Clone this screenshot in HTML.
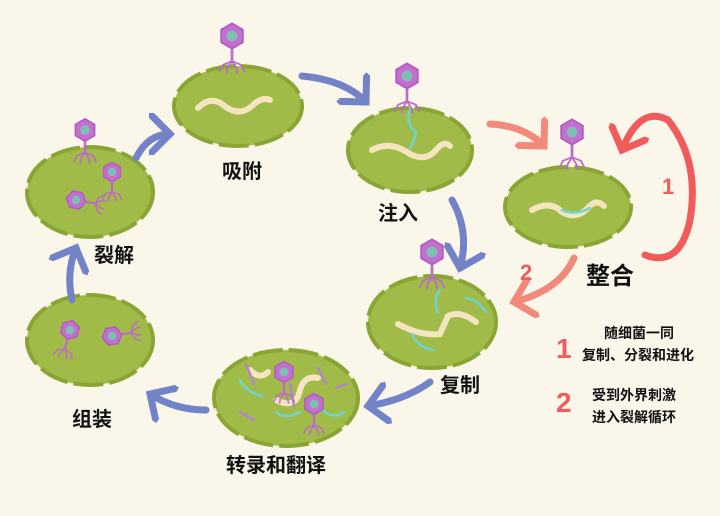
<!DOCTYPE html>
<html><head><meta charset="utf-8"><style>
body{margin:0;background:#fbf6ea;}
svg{display:block}
text{font-family:"Liberation Sans","Noto Sans CJK SC",sans-serif;font-weight:bold;fill:#111}
</style></head><body>
<svg width="720" height="516" viewBox="0 0 720 516">
<rect width="720" height="516" fill="#fbf6ea"/>
<defs>
<marker id="ab" markerWidth="6" markerHeight="6" refX="3" refY="3" orient="auto" markerUnits="strokeWidth"><path d="M0.3,0.3 L3,3 L0.3,5.7" fill="none" stroke="#7383c8" stroke-width="1" stroke-linecap="round"/></marker>
<marker id="ar" markerWidth="6" markerHeight="6" refX="3" refY="3" orient="auto" markerUnits="strokeWidth"><path d="M0.3,0.3 L3,3 L0.3,5.7" fill="none" stroke="#f28a7c" stroke-width="1" stroke-linecap="round"/></marker>
<marker id="ar2" markerWidth="6" markerHeight="6" refX="3" refY="3" orient="auto" markerUnits="strokeWidth"><path d="M0.3,0.3 L3,3 L0.3,5.7" fill="none" stroke="#f25b5b" stroke-width="1" stroke-linecap="round"/></marker>
<g id="ph">
<polygon points="0,-14 12,-7 12,7 0,14 -12,7 -12,-7" fill="#c46fcf" stroke="#b25bbf" stroke-width="2"/>
<circle r="6" fill="#7cbfb4"/>
<line x1="0" y1="14" x2="0" y2="30" stroke="#c06ac8" stroke-width="3"/>
<path d="M0,28 L-10,32 L-14,40 M0,28 L10,32 L14,40 M0,28 L-5,36 L-6,42 M0,28 L5,36 L6,42" stroke="#c06ac8" stroke-width="2" fill="none"/>
</g>
</defs>
<g fill="#a0bb48" stroke="#89a533" stroke-width="4" stroke-dasharray="30 6">
<ellipse cx="238" cy="106" rx="64" ry="40"/>
<ellipse cx="410" cy="150" rx="62" ry="42"/>
<ellipse cx="568" cy="207" rx="63" ry="40"/>
<ellipse cx="432" cy="322" rx="64" ry="46"/>
<ellipse cx="286" cy="398" rx="72" ry="48"/>
<ellipse cx="90" cy="340" rx="63" ry="45"/>
<ellipse cx="90" cy="192" rx="63" ry="45"/>
</g>
<g fill="none" stroke="#f5e4c0" stroke-width="6" stroke-linecap="round">
<path d="M198,108 Q210,96 222,104 Q238,118 252,106 Q262,96 270,100"/>
<path d="M372,150 Q390,140 410,154 Q426,162 436,150 Q444,140 450,146"/>
<path d="M532,210 Q550,200 562,212 Q576,220 588,208 Q596,198 604,206"/>
<path d="M398,324 Q420,336 440,334 L448,316 Q460,310 476,322"/>
<path d="M250,370 Q260,380 268,372 M276,400 Q296,410 300,390 Q304,375 318,378"/>
</g>
<g fill="none" stroke="#6fd3cf" stroke-width="2.5" stroke-linecap="round">
<path d="M410,110 Q405,125 416,132 Q414,142 410,148"/>
<path d="M562,210 Q575,216 590,208"/>
<path d="M440,290 Q432,300 438,312 M466,298 Q478,300 486,312 M412,334 Q418,348 434,350"/>
<path d="M240,380 Q246,392 262,396 M276,412 Q286,420 300,412 M322,410 Q334,420 344,412"/>
</g>
<g fill="none" stroke="#b684c8" stroke-width="2.5" stroke-linecap="round">
<path d="M246,364 L254,384 M318,368 L326,384 M290,384 L294,406 M240,412 L254,420 M336,388 L346,384"/>
</g>
<use href="#ph" transform="translate(232,36) scale(0.9)"/>
<use href="#ph" transform="translate(407,76) scale(0.9)"/>
<use href="#ph" transform="translate(572,132) scale(0.9)"/>
<use href="#ph" transform="translate(432,252) scale(0.9)"/>
<use href="#ph" transform="translate(85,130) scale(0.8)"/>
<use href="#ph" transform="translate(112,172) scale(0.7)"/>
<use href="#ph" transform="translate(76,200) scale(0.7) rotate(-80)"/>
<use href="#ph" transform="translate(70,330) scale(0.7) rotate(15)"/>
<use href="#ph" transform="translate(112,336) scale(0.7) rotate(-100)"/>
<use href="#ph" transform="translate(284,372) scale(0.75)"/>
<use href="#ph" transform="translate(314,404) scale(0.75)"/>
<g fill="none" stroke="#7383c8" stroke-width="7" stroke-linecap="round">
<path d="M302,76 Q345,80 366,102" marker-end="url(#ab)"/>
<path d="M452,200 Q470,232 460,268" marker-end="url(#ab)"/>
<path d="M430,382 Q405,400 368,406" marker-end="url(#ab)"/>
<path d="M206,410 Q175,410 150,394" marker-end="url(#ab)"/>
<path d="M72,300 Q66,272 76,248" marker-end="url(#ab)"/>
<path d="M136,158 Q148,134 170,134" marker-end="url(#ab)"/>
</g>
<path d="M490,124 Q525,126 544,146" fill="none" stroke="#f28a7c" stroke-width="7" stroke-linecap="round" marker-end="url(#ar)"/>
<path d="M574,258 Q560,290 514,302" fill="none" stroke="#f28a7c" stroke-width="7" stroke-linecap="round" marker-end="url(#ar)"/>
<path d="M645,255 Q680,268 690,220 Q700,160 668,120 Q640,105 622,150" fill="none" stroke="#f25b5b" stroke-width="7" stroke-linecap="round" marker-end="url(#ar2)"/>
<g font-size="20">
<text x="222" y="178">吸附</text>
<text x="378" y="220">注入</text>
<text x="586" y="284" font-size="24">整合</text>
<text x="440" y="392">复制</text>
<text x="226" y="472">转录和翻译</text>
<text x="72" y="426">组装</text>
<text x="94" y="262">裂解</text>
</g>
<text x="662" y="194" font-size="22" style="fill:#f25b5b">1</text>
<text x="520" y="280" font-size="22" style="fill:#f25b5b">2</text>
<text x="556" y="358" font-size="28" style="fill:#f25b5b">1</text>
<text x="556" y="412" font-size="28" style="fill:#f25b5b">2</text>
<g font-size="14" style="font-weight:normal">
<text x="604" y="338">随细菌一同</text>
<text x="582" y="360">复制、分裂和进化</text>
<text x="592" y="400">受到外界刺激</text>
<text x="592" y="422">进入裂解循环</text>
</g>
</svg>
</body></html>
